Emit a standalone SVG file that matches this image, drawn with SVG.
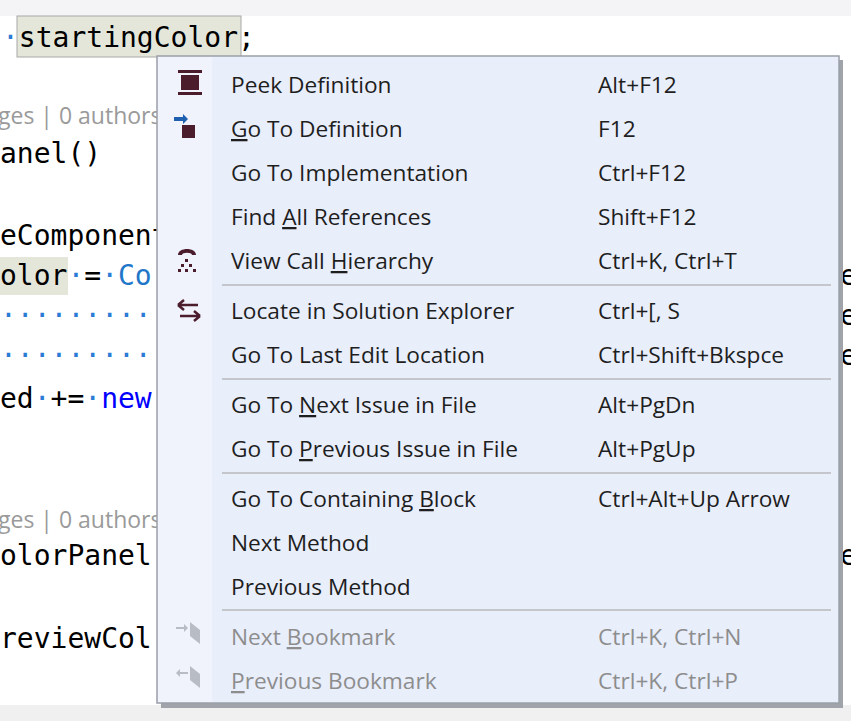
<svg xmlns="http://www.w3.org/2000/svg" width="851" height="721" viewBox="0 0 851 721">
<style>
.code{font-family:"DejaVu Sans Mono","Liberation Mono",monospace;font-size:28px;fill:#000}
.lens{font-family:"Open Sans","Noto Sans",sans-serif;font-size:23px;fill:#9a9a9a}
.mi{font-family:"Open Sans","Noto Sans",sans-serif;font-size:22.7px;fill:#1e1e1e}
.dis{fill:#8d8d8d}
.u{text-decoration:underline}
.sep{stroke:#c4c6cc;stroke-width:2}
.ic{fill:#4a1c2c}
</style>
<rect width="851" height="721" fill="#fff"/>
<rect x="0" y="0" width="851" height="16" fill="#f4f4f6"/>
<rect x="0" y="705" width="851" height="16" fill="#f0f0f0"/>
<g id="code">
<rect x="17" y="16" width="224" height="41" fill="#e4e6da" stroke="#a8a8a8"/>
<text class="code" x="2" y="47"><tspan fill="#2b7bd6">·</tspan>startingColor;</text>
<text class="lens" x="-2" y="124">ges | 0 authors</text>
<text class="code" x="0" y="163">anel()</text>
<text class="code" x="0" y="245">eComponent</text>
<rect x="0" y="257" width="68" height="38" fill="#e4e6da"/>
<text class="code" x="0" y="285">olor<tspan fill="#2b7bd6">·</tspan>=<tspan fill="#2b7bd6">·</tspan><tspan fill="#1f77c9">Co</tspan></text>
<text class="code" x="0" y="325" style="fill:#2b7bd6">·········</text>
<text class="code" x="0" y="365" style="fill:#2b7bd6">·········</text>
<text class="code" x="0" y="408">ed<tspan fill="#2b7bd6">·</tspan>+=<tspan fill="#2b7bd6">·</tspan><tspan fill="#0000ff">new</tspan></text>
<text class="lens" x="-2" y="528">ges | 0 authors,</text>
<text class="code" x="0" y="565">olorPanel</text>
<text class="code" x="0" y="648">reviewCol</text>
<text class="code" x="840" y="285">e</text>
<text class="code" x="840" y="325">e</text>
<text class="code" x="840" y="365">e</text>
<text class="code" x="840" y="565">e</text>
</g>
<g id="menu">
<rect x="161" y="60" width="682" height="648" fill="#a0a4aa"/>
<rect x="157" y="56" width="682" height="647" fill="#e9eefb" stroke="#9aa0a8" stroke-width="1.5"/>
<rect x="158" y="57" width="54" height="645" fill="#f0f3fc"/>
</g>
<g id="icons">
<rect x="178" y="70" width="24" height="3" class="ic"/><rect x="181" y="75" width="18" height="15" class="ic"/><rect x="178" y="92" width="24" height="3" class="ic"/>
<path d="M174 117h9v-3l5 5-5 5v-3h-9z" fill="#1e5fb0"/><rect x="182" y="125" width="13" height="13" class="ic"/>
<path d="M178 255c0-8 18-8 18 0h-4c0-3-10-3-10 0z" class="ic"/><rect x="185" y="259" width="3" height="3" class="ic"/><rect x="181" y="264" width="3" height="3" class="ic"/><rect x="189" y="264" width="3" height="3" class="ic"/><rect x="178" y="269" width="3" height="3" class="ic"/><rect x="185" y="269" width="3" height="3" class="ic"/><rect x="193" y="269" width="3" height="3" class="ic"/>
<path d="M178 305h20M178 305l6-5M178 305l6 5M180 316h20M200 316l-6-5M200 316l-6 5" stroke="#4a1c2c" stroke-width="2.5" fill="none"/>
<path d="M176 627h8v-3l4 4-4 4v-3h-8zM190 622l10 8v14l-10-8z" fill="#b8bcc4"/>
<path d="M188 672h-8v-3l-4 4 4 4v-3h8zM190 666l10 8v14l-10-8z" fill="#b8bcc4"/>
</g>
<g id="separators">
<line class="sep" x1="222" y1="285" x2="831" y2="285"/>
<line class="sep" x1="222" y1="379" x2="831" y2="379"/>
<line class="sep" x1="222" y1="473" x2="831" y2="473"/>
<line class="sep" x1="222" y1="610" x2="831" y2="610"/>
</g>
<g id="items">
<text class="mi" x="231" y="93">Peek Definition</text><text class="mi" x="598" y="93">Alt+F12</text>
<text class="mi" x="231" y="137"><tspan class="u">G</tspan>o To Definition</text><text class="mi" x="598" y="137">F12</text>
<text class="mi" x="231" y="181">Go To Implementation</text><text class="mi" x="598" y="181">Ctrl+F12</text>
<text class="mi" x="231" y="225">Find <tspan class="u">A</tspan>ll References</text><text class="mi" x="598" y="225">Shift+F12</text>
<text class="mi" x="231" y="269">View Call <tspan class="u">H</tspan>ierarchy</text><text class="mi" x="598" y="269">Ctrl+K, Ctrl+T</text>
<text class="mi" x="231" y="319">Locate in Solution Explorer</text><text class="mi" x="598" y="319">Ctrl+[, S</text>
<text class="mi" x="231" y="363">Go To Last Edit Location</text><text class="mi" x="598" y="363">Ctrl+Shift+Bkspce</text>
<text class="mi" x="231" y="413">Go To <tspan class="u">N</tspan>ext Issue in File</text><text class="mi" x="598" y="413">Alt+PgDn</text>
<text class="mi" x="231" y="457">Go To <tspan class="u">P</tspan>revious Issue in File</text><text class="mi" x="598" y="457">Alt+PgUp</text>
<text class="mi" x="231" y="507">Go To Containing <tspan class="u">B</tspan>lock</text><text class="mi" x="598" y="507">Ctrl+Alt+Up Arrow</text>
<text class="mi" x="231" y="551">Next Method</text>
<text class="mi" x="231" y="595">Previous Method</text>
<text class="mi dis" x="231" y="645">Next <tspan class="u">B</tspan>ookmark</text><text class="mi dis" x="598" y="645">Ctrl+K, Ctrl+N</text>
<text class="mi dis" x="231" y="689"><tspan class="u">P</tspan>revious Bookmark</text><text class="mi dis" x="598" y="689">Ctrl+K, Ctrl+P</text>
</g>
</svg>
